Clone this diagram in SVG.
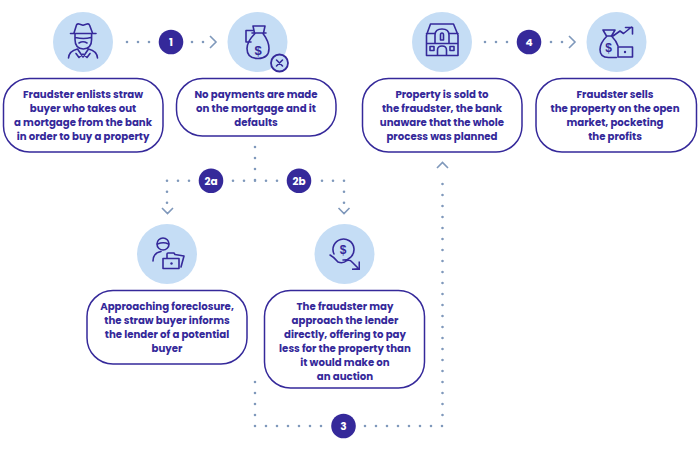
<svg xmlns="http://www.w3.org/2000/svg" width="700" height="450" viewBox="0 0 700 450">
<defs><style>
.c{fill:#c5ddf5}
.b{fill:#fff;stroke:#35299a;stroke-width:1.5}
.t{font-family:Poppins,"Liberation Sans",Arial,sans-serif;font-size:10.2px;font-weight:700;fill:#35299a;text-anchor:middle}
.n{fill:#35299a}
.nt{font-family:Poppins,"Liberation Sans",Arial,sans-serif;font-size:10.5px;font-weight:700;fill:#fff;text-anchor:middle}
.d{fill:none;stroke:#7f98bb;stroke-width:2.6;stroke-linecap:round;stroke-dasharray:0 11}
.a{fill:none;stroke:#7f98bb;stroke-width:1.6}
.i{fill:none;stroke:#35299a;stroke-width:1.6;stroke-linecap:round;stroke-linejoin:round}
.s{font-family:"Liberation Sans",Arial,sans-serif;font-weight:700;fill:#35299a;text-anchor:middle}
</style></defs>
<rect width="700" height="450" fill="#fff"/>
<g id="connectors">
<path class="d" d="M127 42H149.500M192 42H203.500"/><path class="a" d="M210 36l6 6-6 6"/>
<path class="d" d="M485 42H507.500M551 42H562.500"/><path class="a" d="M569 36l6 6-6 6"/>
<path class="d" d="M255 147V180.500M233 180.700H277.500M167 180.700H189.500M322 180.700H344.500M167 191.700V203M344 191.700V203"/>
<path class="a" d="M162 208l5.500 5.500 5.500-5.500M338.500 208l5.500 5.500 5.500-5.500"/>
<path class="d" d="M255 382V426.500M266 426H321.500M365 426H442.500M442.500 415V173"/>
<path class="a" d="M437 168l5.500-5.500 5.500 5.500"/>
</g>
<g id="b1"><circle class="n" cx="171" cy="42" r="12.300"/><text class="nt" x="171" y="46">1</text></g>
<g id="b4"><circle class="n" cx="529" cy="42" r="12.300"/><text class="nt" x="529" y="46">4</text></g>
<g id="b2a"><circle class="n" cx="211" cy="180.700" r="12.300"/><text class="nt" x="211" y="184.500">2a</text></g>
<g id="b2b"><circle class="n" cx="299" cy="180.700" r="12.300"/><text class="nt" x="299" y="184.500">2b</text></g>
<g id="b3"><circle class="n" cx="343.500" cy="426" r="12.300"/><text class="nt" x="343.500" y="430">3</text></g>
<g id="n1"><circle class="c" cx="83" cy="42" r="30"/>
<path class="i" d="M70.500 33.500H96M74 33l2.500-8q.5-1.500 2.500-1l4 1.200 4-1.200q2-.5 2.500 1L92.500 33M75 33.500v6q0 9 8.300 9.500q8.300-.5 8.300-9.500v-6M75.500 37.500q8 2 15.500 0M79 43q4-2.500 8 0M68.500 58q.5-7 9-9l5.500 8 5.500-8q8.500 2 9 9M76 53.500l3 4 4-3.500 4 3.500 3-4"/>
<rect class="b" x="3.500" y="78.500" width="159.500" height="73.500" rx="26"/>
<text class="t"><tspan x="83" y="98">Fraudster enlists straw</tspan><tspan x="83" y="112">buyer who takes out</tspan><tspan x="83" y="126">a mortgage from the bank</tspan><tspan x="83" y="140">in order to buy a property</tspan></text></g>
<g id="n2"><circle class="c" cx="257.500" cy="42" r="30"/>
<path class="i" d="M253 26h12l-1.500 7h-9zM252 33h14M255 33.500q-8 8-8 15q0 10 11 10q11 0 11-10q0-7-6-15M246 30.500h7M246 42h5M246 30.500V42"/>
<text class="s" x="258" y="55" font-size="13">$</text>
<circle cx="279.500" cy="63" r="8.500" fill="#c5ddf5" stroke="#35299a" stroke-width="1.800"/><path class="i" d="M276.500 60l6 6M282.500 60l-6 6"/>
<rect class="b" x="176.500" y="78.500" width="159.500" height="57.500" rx="26"/>
<text class="t"><tspan x="256" y="98">No payments are made</tspan><tspan x="256" y="112">on the mortgage and it</tspan><tspan x="256" y="126">defaults</tspan></text></g>
<g id="n3"><circle class="c" cx="442" cy="42" r="30"/>
<path class="i" d="M426.500 55.500V35l4-11h23l4.500 11v20.500zM426.500 33.500h8M449.500 33.500h8.500M426.500 43.500h31M435 43v-8q0-6 7-6q7 0 7 6v8M437.500 55.500V50q0-4 4.500-4q4.500 0 4.500 4v5.500M430 46.500h4v4h-4zM450 46.500h4v4h-4zM440.500 40v-5q0-2 1.500-2q1.500 0 1.500 2v5z"/>
<rect class="b" x="362.500" y="78.500" width="159.500" height="73.500" rx="26"/>
<text class="t"><tspan x="442" y="98">Property is sold to</tspan><tspan x="442" y="112">the fraudster, the bank</tspan><tspan x="442" y="126">unaware that the whole</tspan><tspan x="442" y="140">process was planned</tspan></text></g>
<g id="n4"><circle class="c" cx="616.500" cy="42" r="30"/>
<path class="i" d="M603 30h12l-3.500 6h-5zM607 36q-7 7-7 13.500q0 8 8.500 8h8M613 36l7-5 3.500 2.500 8-6.500M625.500 27.500h7v6.500M618 47h14.500v10h-14.500z"/>
<path class="i" d="M611.500 36q5 5 6.500 10"/>
<circle class="n" cx="625" cy="52" r="1.200"/>
<text class="s" x="608.500" y="52" font-size="12">$</text>
<rect class="b" x="536" y="78.500" width="160.500" height="73.500" rx="26"/>
<text class="t"><tspan x="615" y="98">Fraudster sells</tspan><tspan x="615" y="112">the property on the open</tspan><tspan x="615" y="126">market, pocketing</tspan><tspan x="615" y="140">the profits</tspan></text></g>
<g id="n5"><circle class="c" cx="167" cy="254" r="30"/>
<circle class="i" cx="163" cy="244" r="6"/>
<path class="i" d="M157.500 244q6-2.500 11 0M153 261q0-8 8-9.500M163 258.500h16v10h-16zM167 258v-4q0-1 1-1l6 0 1 1.500 9 1.500-3 11"/>
<circle class="n" cx="171.500" cy="263.500" r="1.200"/>
<rect class="b" x="87" y="290.500" width="160" height="73.500" rx="26"/>
<text class="t"><tspan x="167" y="310">Approaching foreclosure,</tspan><tspan x="167" y="324">the straw buyer informs</tspan><tspan x="167" y="338">the lender of a potential</tspan><tspan x="167" y="352">buyer</tspan></text></g>
<g id="n6"><circle class="c" cx="344.500" cy="254" r="30"/>
<path class="i" d="M334 254a10.500 10.500 0 1 1 9 6M330 255q4 2 8 7q5 2 9-1.500q3-1 5 1.500l6 6"/>
<path class="n" d="M358.500 261.500h1.500v8.500h-8v-1.500l6.500-.5z"/>
<text class="s" x="343" y="254" font-size="12">$</text>
<rect class="b" x="264.500" y="290.500" width="160" height="97.500" rx="26"/>
<text class="t"><tspan x="345" y="310">The fraudster may</tspan><tspan x="345" y="324">approach the lender</tspan><tspan x="345" y="338">directly, offering to pay</tspan><tspan x="345" y="352">less for the property than</tspan><tspan x="345" y="366">it would make on</tspan><tspan x="345" y="380">an auction</tspan></text></g>
</svg>
